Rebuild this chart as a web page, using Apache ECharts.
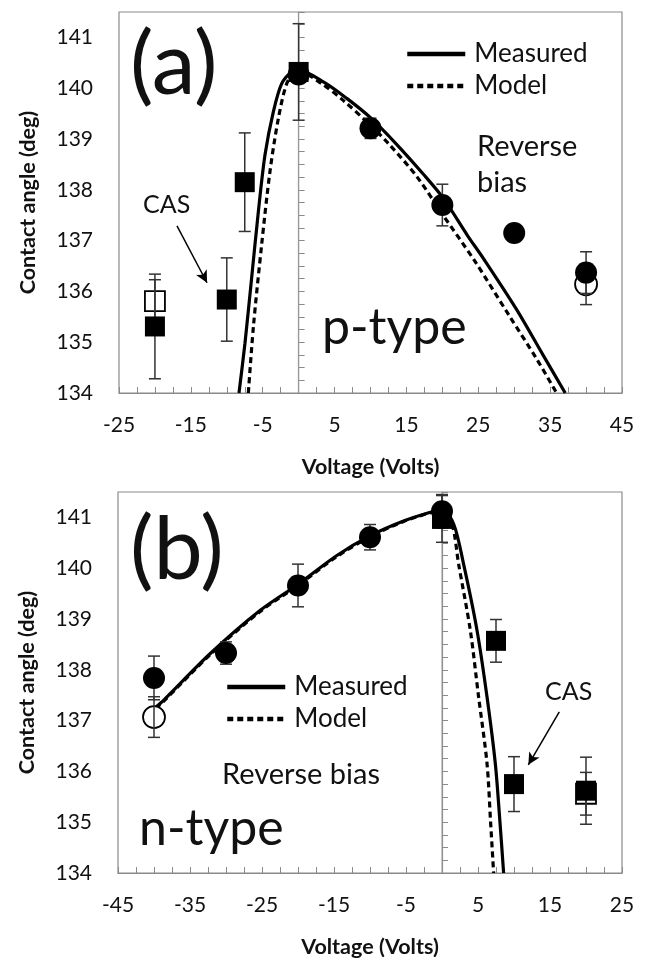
<!DOCTYPE html>
<html lang="en">
<head>
    <meta charset="UTF-8"/>
    <title>Contact angle vs voltage</title>
    <script src="https://cdn.jsdelivr.net/npm/echarts@6/dist/echarts.min.js"></script>
    <style>
        html, body { margin: 0; padding: 0; background: #fff; }
        #chart { width: 645px; height: 959px; }
    </style>
</head>
<body>
<div id="chart"></div>
<script type="text/javascript">
    // ---- panel (a) p-type : [voltage, angle, error] ----
    var pFilledSquares = [[-20, 135.31, 1.03], [-10, 135.84, 0.82], [-7.5, 138.15, 0.97], [0, 140.32, 0.95]];
    var pOpenSquares = [[-20, 135.81, 0.42]];
    var pFilledCircles = [[0, 140.27, 0], [10, 139.21, 0.2], [20, 137.7, 0.41], [30, 137.15, 0.1], [40, 136.37, 0.41]];
    var pOpenCircles = [[40, 136.14, 0.4]];
    var pMeasured = [[-8.3, 134], [-7.47, 134.98], [-6.53, 136.28], [-5.6, 137.58], [-4.68, 138.69], [-3.53, 139.53],
        [-2.36, 140.09], [-0.97, 140.32], [0, 140.35], [3.5, 140.12], [6.7, 139.8], [10, 139.42], [13.6, 138.9],
        [17.4, 138.3], [20.1, 137.84], [23.5, 137.1], [25.7, 136.65], [30.3, 135.65], [34, 134.75], [37.1, 134]];
    var pModel = [[-7.0, 134], [-6.3, 135.3], [-5.14, 136.93], [-3.99, 138.36], [-2.83, 139.4], [-1.66, 140.09],
        [-0.49, 140.32], [0, 140.33], [3.1, 140.1], [6.2, 139.76], [9.4, 139.35], [12.7, 138.88], [16.5, 138.25],
        [20.1, 137.5], [24.5, 136.6], [29.4, 135.5], [33, 134.7], [35.9, 134]];

    // ---- panel (b) n-type ----
    var nFilledCircles = [[-40, 137.84, 0.43], [-30, 138.33, 0.22], [-20, 139.66, 0.42], [-10, 140.61, 0.25], [0, 141.12, 0.33]];
    var nOpenCircles = [[-40, 137.07, 0.4]];
    var nFilledSquares = [[0, 140.97, 0.46], [7.5, 138.57, 0.42], [10, 135.75, 0.54], [20, 135.62, 0.66]];
    var nOpenSquares = [[20, 135.56, 0.42]];
    var nMeasured = [[-39.8, 137.26], [-38.67, 137.4], [-32.18, 138.32], [-25.24, 139.17], [-19.92, 139.69],
        [-14.6, 140.25], [-9.96, 140.64], [-5.33, 140.93], [-0.9, 141.13], [0, 141.15], [1.62, 140.87],
        [3.0, 140.08], [4.86, 138.78], [6.25, 137.47], [7.4, 136.16], [8.05, 135.0], [8.56, 134]];
    var nModel = [[-39.8, 137.24], [-38.67, 137.38], [-32.18, 138.3], [-25.24, 139.15], [-19.92, 139.67],
        [-14.6, 140.23], [-9.96, 140.62], [-5.33, 140.92], [-0.9, 141.12], [0, 141.13], [1.39, 140.87],
        [2.31, 140.08], [3.93, 138.78], [5.08, 137.47], [6.25, 136.16], [6.75, 135.0], [7.17, 134]];

    // axis ranges / tick labels
    var pXRange = [-25, 45];
    var nXRange = [-45, 25];
    var yRange = [134, 141.5];
    var pXLabels = [-25, -15, -5, 5, 15, 25, 35, 45];
    var nXLabels = [-45, -35, -25, -15, -5, 5, 15, 25];
    var yLabels = [134, 135, 136, 137, 138, 139, 140, 141];

    var FONT = 'Lato, "Open Sans", sans-serif';
    var GRAY = '#8a8a8a';

    var chart = echarts.init(document.getElementById('chart'));

    function xAxisFor(idx, range, labels) {
        return {
            type: 'value', gridIndex: idx, min: range[0], max: range[1], interval: 2.5,
            name: 'Voltage (Volts)', nameLocation: 'middle', nameGap: 63,
            nameTextStyle: {fontFamily: FONT, fontSize: 21.5, fontWeight: 'bold', color: '#111'},
            axisLine: {lineStyle: {color: GRAY, width: 1.2}},
            axisTick: {inside: true, length: 6, lineStyle: {color: GRAY}},
            splitLine: {show: false},
            axisLabel: {
                margin: 22, fontFamily: FONT, fontSize: 21, color: '#111',
                formatter: function (v) { return labels.indexOf(v) >= 0 ? String(v) : ''; }
            }
        };
    }

    function yAxisFor(idx) {
        return {
            type: 'value', gridIndex: idx, min: yRange[0], max: yRange[1], interval: 0.25,
            name: 'Contact angle (deg)', nameLocation: 'middle', nameGap: 80,
            nameTextStyle: {fontFamily: FONT, fontSize: 21.5, fontWeight: 'bold', color: '#111'},
            axisLine: {show: true, lineStyle: {color: GRAY, width: 1.2}},
            axisTick: {show: true, inside: true, length: 6, lineStyle: {color: GRAY}},
            splitLine: {show: false},
            axisLabel: {
                margin: 26, fontFamily: FONT, fontSize: 21, color: '#111',
                formatter: function (v) { return yLabels.indexOf(v) >= 0 ? String(v) : ''; }
            }
        };
    }

    // vertical error bar with caps
    function errorSeries(idx, data) {
        return {
            type: 'custom', xAxisIndex: idx, yAxisIndex: idx, z: 4, silent: true,
            data: data,
            renderItem: function (params, api) {
                var x = api.value(0), y = api.value(1), e = api.value(2);
                if (!e) return null;
                var hi = api.coord([x, y + e]);
                var lo = api.coord([x, y - e]);
                var w = 6;
                var st = {stroke: '#333', lineWidth: 1.5};
                return {
                    type: 'group',
                    children: [
                        {type: 'line', shape: {x1: hi[0], y1: hi[1], x2: lo[0], y2: lo[1]}, style: st},
                        {type: 'line', shape: {x1: hi[0] - w, y1: hi[1], x2: hi[0] + w, y2: hi[1]}, style: st},
                        {type: 'line', shape: {x1: lo[0] - w, y1: lo[1], x2: lo[0] + w, y2: lo[1]}, style: st}
                    ]
                };
            }
        };
    }

    function markers(idx, data, symbol, size, filled) {
        return {
            type: 'scatter', xAxisIndex: idx, yAxisIndex: idx, symbol: symbol, symbolSize: size,
            z: filled ? 5 : 3, silent: true,
            data: data.map(function (d) { return [d[0], d[1]]; }),
            itemStyle: filled ? {color: '#000', opacity: 1}
                : {color: '#fff', borderColor: '#000', borderWidth: 1.8, opacity: 1}
        };
    }

    function curve(idx, name, data, dashed) {
        return {
            type: 'line', name: name, xAxisIndex: idx, yAxisIndex: idx, data: data,
            showSymbol: false, symbol: 'none', smooth: 0.3, z: 2, silent: true,
            lineStyle: {color: '#000', width: 3.2, type: dashed ? [6, 4] : 'solid'},
            itemStyle: {color: '#000'}
        };
    }

    // zero-volt line plus the CAS arrow
    function zeroLine(idx, arrowFrom, arrowTo) {
        return {
            type: 'line', xAxisIndex: idx, yAxisIndex: idx, data: [[0, yRange[0]], [0, yRange[1]]],
            showSymbol: false, symbol: 'none', z: 1, silent: true,
            lineStyle: {color: '#999', width: 1},
            markLine: {
                silent: true, symbol: ['none', 'arrow'], symbolSize: [9, 12],
                label: {show: false},
                lineStyle: {color: '#000', width: 1.5, type: 'solid'},
                data: [[{coord: arrowFrom}, {coord: arrowTo}]]
            }
        };
    }

    function legendAt(left, top) {
        return {
            orient: 'vertical', left: left, top: top, itemWidth: 58, itemHeight: 14, itemGap: 6,
            data: ['Measured', 'Model'], selectedMode: false,
            itemStyle: {opacity: 0},
            lineStyle: {width: 4.5},
            textStyle: {fontFamily: FONT, fontSize: 26, color: '#111', padding: [0, 0, 0, 4]}
        };
    }

    function txt(x, y, text, size, align) {
        return {
            type: 'text', x: x, y: y, silent: true,
            style: {text: text, font: size + 'px ' + FONT, fill: '#111', verticalAlign: align || 'middle', lineHeight: 36}
        };
    }

    var option = {
        backgroundColor: '#fff',
        animation: false,
        grid: [
            {left: 119, top: 12, width: 503, height: 381, show: true, borderColor: GRAY, borderWidth: 1.2},
            {left: 118, top: 492, width: 504, height: 381, show: true, borderColor: GRAY, borderWidth: 1.2}
        ],
        xAxis: [xAxisFor(0, pXRange, pXLabels), xAxisFor(1, nXRange, nXLabels)],
        yAxis: [yAxisFor(0), yAxisFor(1)],
        legend: [legendAt(400, 36), legendAt(220, 669)],
        series: [
            zeroLine(0, [-16.93, 137.29], [-12.75, 136.17]),
            curve(0, 'Measured', pMeasured, false),
            curve(0, 'Model', pModel, true),
            markers(0, pOpenSquares, 'rect', 20, false),
            markers(0, pOpenCircles, 'circle', 22, false),
            errorSeries(0, pFilledSquares.concat(pOpenSquares, pFilledCircles, pOpenCircles)),
            markers(0, pFilledSquares, 'rect', 20, true),
            markers(0, pFilledCircles, 'circle', 22, true),

            zeroLine(1, [16.29, 137.17], [11.99, 136.13]),
            curve(1, 'Measured', nMeasured, false),
            curve(1, 'Model', nModel, true),
            markers(1, nOpenSquares, 'rect', 20, false),
            markers(1, nOpenCircles, 'circle', 22, false),
            errorSeries(1, nFilledSquares.concat(nOpenSquares, nFilledCircles, nOpenCircles)),
            markers(1, nFilledSquares, 'rect', 20, true),
            markers(1, nFilledCircles, 'circle', 22, true)
        ],
        graphic: [
            txt(130, 66, '(a)', 88),
            txt(322, 328, 'p-type', 50),
            txt(143, 205, 'CAS', 25),
            txt(477, 129, 'Reverse\nbias', 29, 'top'),
            txt(130, 551, '(b)', 88),
            txt(139, 829, 'n-type', 50),
            txt(222, 775, 'Reverse bias', 29),
            txt(545, 692, 'CAS', 25)
        ]
    };
    chart.setOption(option);
</script>
</body>
</html>
